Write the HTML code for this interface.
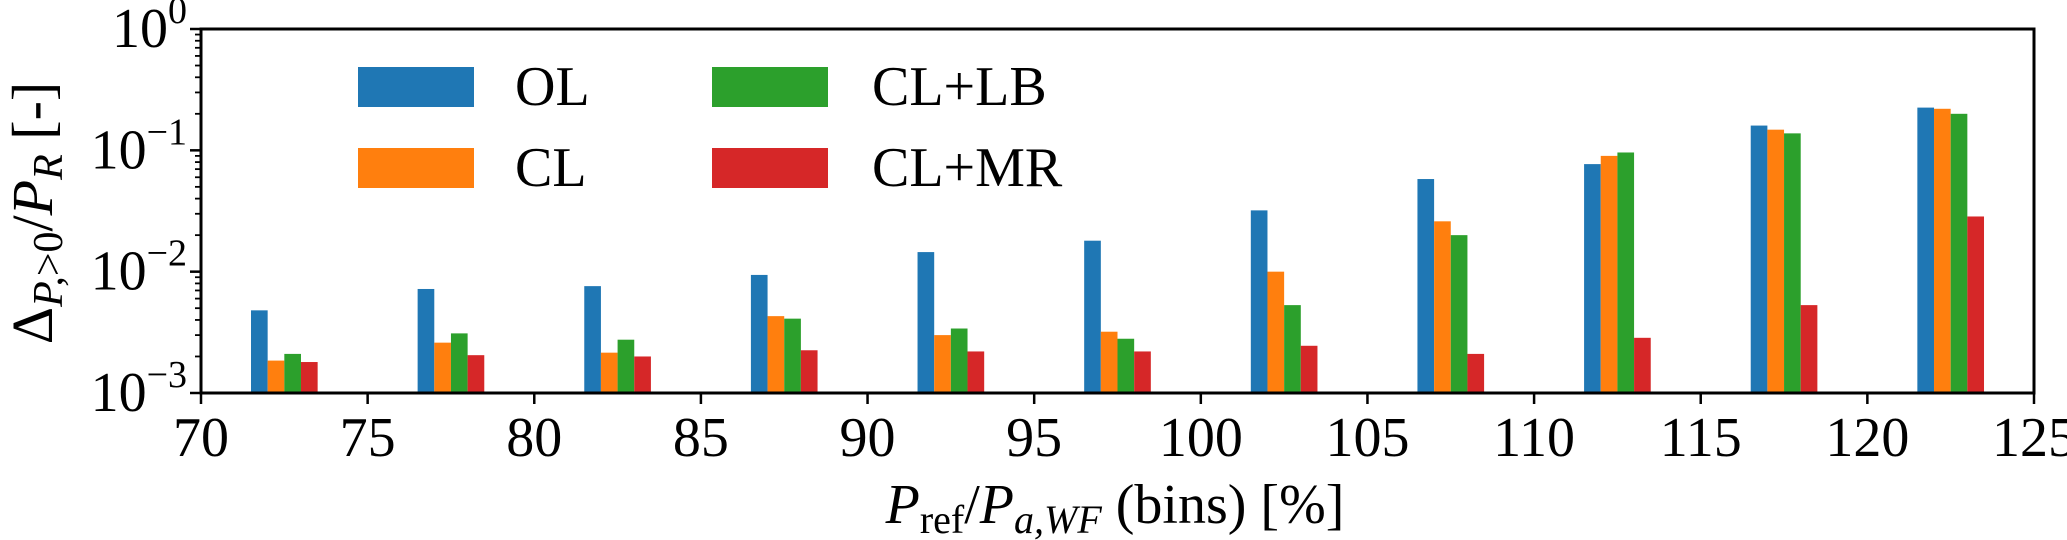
<!DOCTYPE html>
<html><head><meta charset="utf-8"><style>
html,body{margin:0;padding:0;background:#fff;}
svg{display:block;font-family:"Liberation Serif",serif;}
</style></head><body>
<svg id="chart" width="2067" height="540" viewBox="0 0 2067 540">
<g id="bars"></g>
<g id="axes"></g>
<g id="legend">
  <rect x="358" y="67" width="116" height="40" fill="#1f77b4"/>
  <text x="515" y="105" font-size="56">OL</text>
  <rect x="358" y="148" width="116" height="40" fill="#ff7f0e"/>
  <text x="515" y="186" font-size="56">CL</text>
  <rect x="712" y="67" width="116" height="40" fill="#2ca02c"/>
  <text x="872" y="105" font-size="56">CL+LB</text>
  <rect x="712" y="148" width="116" height="40" fill="#d62728"/>
  <text x="872" y="186" font-size="56">CL+MR</text>
</g>
<text x="1115" y="523" font-size="56" text-anchor="middle"><tspan font-style="italic">P</tspan><tspan font-size="40" dy="10">ref</tspan><tspan dy="-10">/</tspan><tspan font-style="italic">P</tspan><tspan font-size="40" font-style="italic" dy="10">a,WF</tspan><tspan dy="-10"> (bins) [%]</tspan></text>
<text transform="translate(52,213) rotate(-90)" font-size="58" text-anchor="middle">Δ<tspan font-size="42" font-style="italic" dy="10">P,</tspan><tspan font-size="42" dy="0">&gt;0</tspan><tspan dy="-10">/</tspan><tspan font-style="italic">P</tspan><tspan font-size="42" font-style="italic" dy="10">R</tspan><tspan dy="-10"> [-]</tspan></text>
</svg>
<script>
const categories = [72.5, 77.5, 82.5, 87.5, 92.5, 97.5, 102.5, 107.5, 112.5, 117.5, 122.5];
const seriesNames = ["OL", "CL", "CL+LB", "CL+MR"];
const olValues = [4.8e-3, 7.2e-3, 7.6e-3, 9.4e-3, 1.45e-2, 1.8e-2, 3.2e-2, 5.8e-2, 7.7e-2, 0.16, 0.225];
const clValues = [1.85e-3, 2.6e-3, 2.15e-3, 4.3e-3, 3.0e-3, 3.2e-3, 1.0e-2, 2.6e-2, 9.0e-2, 0.148, 0.22];
const cllbValues = [2.1e-3, 3.1e-3, 2.75e-3, 4.1e-3, 3.4e-3, 2.8e-3, 5.3e-3, 2.0e-2, 9.6e-2, 0.138, 0.2];
const clmrValues = [1.8e-3, 2.05e-3, 2.0e-3, 2.25e-3, 2.2e-3, 2.2e-3, 2.45e-3, 2.1e-3, 2.85e-3, 5.3e-3, 2.85e-2];
const xTicks = [70, 75, 80, 85, 90, 95, 100, 105, 110, 115, 120, 125];
const yTickExps = [0, -1, -2, -3];

const NS = "http://www.w3.org/2000/svg";
const L = 201, R = 2034, T = 29, B = 393;
const xMin = 70, xMax = 125, yMinE = -3, yMaxE = 0;
function xs(v){ return L + (v - xMin) / (xMax - xMin) * (R - L); }
function ys(v){ return B - (Math.log10(v) - yMinE) / (yMaxE - yMinE) * (B - T); }
function mk(tag, attrs, parent){
  const e = document.createElementNS(NS, tag);
  for (const k in attrs) e.setAttribute(k, attrs[k]);
  parent.appendChild(e); return e;
}
const colors = ["#1f77b4", "#ff7f0e", "#2ca02c", "#d62728"];
const allSeries = [olValues, clValues, cllbValues, clmrValues];
const bw = 0.5;
const barsG = document.getElementById("bars");
allSeries.forEach((vals, si) => {
  vals.forEach((v, i) => {
    const x0 = xs(categories[i] - 1 + si * bw);
    const x1 = xs(categories[i] - 1 + (si + 1) * bw);
    const r = mk("rect", {x: x0, y: ys(v), width: x1 - x0, height: B - ys(v), fill: colors[si]}, barsG);
    
    
  });
});
const ax = document.getElementById("axes");
const frame = mk("rect", {x: L, y: T, width: R - L, height: B - T, fill: "none", stroke: "#000", "stroke-width": 3}, ax);


xTicks.forEach(t => {
  const x = xs(t);
  const tk = mk("line", {x1: x, x2: x, y1: B, y2: B + 11, stroke: "#000", "stroke-width": 2.5}, ax);
  
  
  const tx = mk("text", {x: x, y: 456, "font-size": 56, "text-anchor": "middle"}, ax);
  tx.textContent = t;
  
  
});
yTickExps.forEach(e => {
  const y = ys(Math.pow(10, e));
  const tk = mk("line", {x1: L - 11, x2: L, y1: y, y2: y, stroke: "#000", "stroke-width": 2.5}, ax);
  
  
  const tx = mk("text", {x: L - 14, y: y + 18, "font-size": 56, "text-anchor": "end"}, ax);
  
  
  const base = mk("tspan", {}, tx);
  base.textContent = "10";
  const sup = mk("tspan", {dy: -24, "font-size": 38}, tx);
  sup.textContent = e === 0 ? "0" : "\u2212" + (-e);
  if (e > yMinE) {
    for (let m = 2; m <= 9; m++) {
      const yy = ys(m * Math.pow(10, e - 1));
      const mt = mk("line", {x1: L - 6, x2: L, y1: yy, y2: yy, stroke: "#000", "stroke-width": 1.8}, ax);
      
      
    }
  }
});
</script>
</body></html>
